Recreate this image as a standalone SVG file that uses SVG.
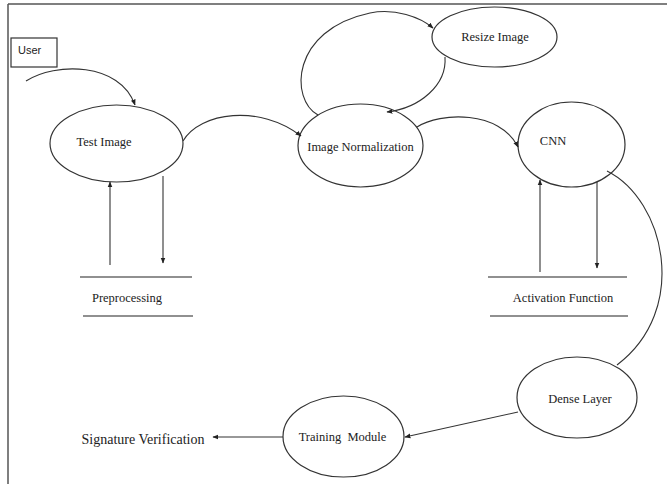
<svg xmlns="http://www.w3.org/2000/svg" width="667" height="484" viewBox="0 0 667 484">
<defs>
<marker id="arr" viewBox="0 0 10 10" refX="9" refY="5" markerWidth="6" markerHeight="6" orient="auto" markerUnits="userSpaceOnUse">
<path d="M0,1 L10,5 L0,9 z" fill="#222"/>
</marker>
<style>
.node ellipse{fill:#fff;stroke:#333;stroke-width:1.2}
.lbl{font-family:"Liberation Serif","Times New Roman",serif;font-size:12.5px;fill:#222;text-anchor:middle}
.conn path,.conn line{fill:none;stroke:#333;stroke-width:1.1}
.bar{stroke:#222;stroke-width:1.2}
</style>
</defs>
<rect width="667" height="484" fill="#fff"/>
<g id="frame" stroke="#555" stroke-width="1.5" fill="none">
<line x1="8" y1="4" x2="667" y2="4"/>
<line x1="8" y1="4" x2="8" y2="484"/>
</g>

<g id="user" class="node">
<rect x="11" y="38" width="46" height="29" fill="#fff" stroke="#333" stroke-width="1.2"/>
<text x="18" y="54" font-family="'Liberation Sans',Arial,sans-serif" font-size="11" fill="#222">User</text>
</g>

<g id="test-image" class="node">
<ellipse cx="116.5" cy="143.5" rx="66.5" ry="38.5"/>
<text class="lbl" x="104" y="146">Test Image</text>
</g>

<g id="image-normalization" class="node">
<ellipse cx="360.5" cy="145.5" rx="62.5" ry="41.5"/>
<text class="lbl" x="360.5" y="151">Image Normalization</text>
</g>

<g id="resize-image" class="node">
<ellipse cx="494.5" cy="37" rx="62.5" ry="30"/>
<text class="lbl" x="495" y="41">Resize Image</text>
</g>

<g id="cnn" class="node">
<ellipse cx="571.5" cy="144.5" rx="53.5" ry="42.5"/>
<text class="lbl" x="553" y="145">CNN</text>
</g>

<g id="dense-layer" class="node">
<ellipse cx="577" cy="397.5" rx="60" ry="40.5"/>
<text class="lbl" x="580" y="403">Dense Layer</text>
</g>

<g id="training-module" class="node">
<ellipse cx="343.5" cy="436.5" rx="60.5" ry="40.5"/>
<text class="lbl" x="342.5" y="441" style="white-space:pre">Training  Module</text>
</g>

<g id="preprocessing">
<line class="bar" x1="80" y1="277" x2="192" y2="277"/>
<line class="bar" x1="83" y1="316" x2="193" y2="316"/>
<text class="lbl" x="127" y="302">Preprocessing</text>
</g>

<g id="activation-function">
<line class="bar" x1="488" y1="277" x2="627" y2="277"/>
<line class="bar" x1="490" y1="316" x2="628" y2="316"/>
<text class="lbl" x="563" y="302">Activation Function</text>
</g>

<g id="signature-verification">
<text x="143" y="444" font-family="'Liberation Serif','Times New Roman',serif" font-size="14" fill="#222" text-anchor="middle">Signature Verification</text>
</g>

<g id="connectors" class="conn">
<path d="M26,81 C55,62 120,62 135,105" marker-end="url(#arr)"/>
<path d="M183,141 C200,112 260,104 301,136" marker-end="url(#arr)"/>
<path d="M318,115 C290,100 290,30 370,13 C395,8 420,17 433,28" marker-end="url(#arr)"/>
<path d="M445,57 C447,85 420,108 387,112" marker-end="url(#arr)"/>
<path d="M417,127 C440,112 500,110 518,147" marker-end="url(#arr)"/>
<path d="M607,171 C665,200 690,310 617,365"/>
<line x1="518" y1="412" x2="405" y2="437" marker-end="url(#arr)"/>
<line x1="283" y1="437" x2="213" y2="437" marker-end="url(#arr)"/>
<line x1="110" y1="265" x2="110" y2="182" marker-end="url(#arr)"/>
<line x1="163" y1="176" x2="163" y2="263" marker-end="url(#arr)"/>
<line x1="540" y1="272" x2="540" y2="180" marker-end="url(#arr)"/>
<line x1="597" y1="182" x2="597" y2="268" marker-end="url(#arr)"/>
</g>
</svg>
